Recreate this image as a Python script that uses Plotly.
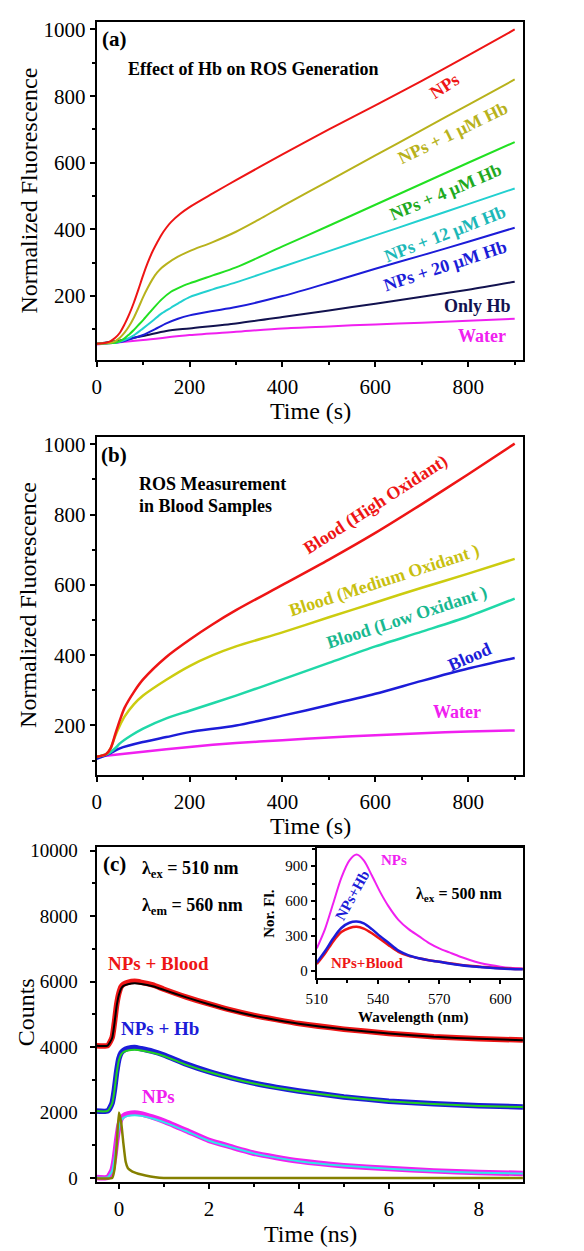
import plotly.graph_objects as go

W, H = 584, 1251
FONT = "Liberation Serif, Times New Roman, serif"

# ---------------- Panel (a): Effect of Hb on ROS generation ----------------
a_t_nps = [0, 20, 30, 40, 50, 60, 70, 80, 90, 100, 110, 120, 130, 140, 150, 160, 180, 200, 250, 300, 400, 500, 600, 700, 800, 900]
a_nps = [57, 60, 65, 75, 90, 115, 145, 180, 220, 262, 300, 333, 360, 385, 405, 422, 447, 467, 508, 548, 625, 700, 772, 846, 922, 1000]
a_t_1 = [0, 30, 40, 50, 60, 70, 80, 90, 100, 110, 120, 130, 140, 150, 175, 200, 250, 300, 350, 400, 500, 600, 700, 800, 900]
a_1uM = [57, 60, 65, 75, 90, 110, 135, 165, 197, 225, 250, 270, 285, 296, 318, 335, 362, 393, 430, 470, 546, 622, 698, 774, 850]
a_t_4 = [0, 40, 50, 60, 70, 80, 90, 100, 120, 140, 160, 180, 200, 250, 300, 400, 500, 600, 700, 800, 900]
a_4uM = [57, 60, 65, 73, 85, 98, 113, 128, 160, 190, 213, 227, 238, 262, 286, 349, 411, 474, 537, 600, 662]
a_t_12 = [0, 40, 60, 80, 100, 120, 140, 160, 180, 200, 250, 300, 400, 500, 600, 700, 800, 900]
a_12uM = [57, 60, 68, 82, 103, 125, 148, 165, 182, 197, 220, 241, 288, 335, 382, 429, 476, 523]
a_t_20 = [0, 50, 75, 100, 125, 150, 175, 200, 250, 300, 400, 500, 600, 700, 800, 900]
a_20uM = [57, 62, 72, 83, 100, 118, 132, 142, 155, 167, 200, 240, 282, 322, 363, 405]
a_t_hb = [0, 50, 100, 150, 200, 300, 400, 500, 600, 700, 800, 900]
a_onlyhb = [57, 67, 80, 95, 103, 118, 137, 157, 177, 198, 219, 243]
a_t_w = [0, 100, 200, 300, 400, 500, 600, 700, 800, 900]
a_water = [55, 68, 83, 93, 103, 109, 115, 120, 126, 132]

# ---------------- Panel (b): ROS in blood samples ----------------
b_t_high = [0, 20, 30, 40, 50, 60, 80, 100, 150, 200, 250, 300, 400, 500, 600, 700, 800, 900]
b_high = [111, 118, 135, 175, 215, 250, 295, 331, 395, 444, 488, 528, 600, 672, 748, 830, 915, 1002]
b_t_med = [0, 20, 30, 40, 50, 60, 80, 100, 150, 200, 250, 300, 400, 500, 600, 700, 800, 900]
b_med = [111, 118, 135, 170, 200, 225, 260, 285, 330, 369, 400, 425, 465, 508, 550, 592, 632, 674]
b_t_low = [0, 25, 40, 50, 75, 100, 150, 200, 300, 400, 500, 600, 700, 800, 900]
b_low = [111, 120, 135, 149, 172, 191, 220, 242, 285, 331, 378, 425, 467, 510, 561]
b_t_blood = [0, 25, 50, 100, 150, 200, 300, 400, 500, 600, 700, 800, 900]
b_blood = [105, 118, 135, 153, 167, 181, 200, 228, 258, 290, 327, 362, 392]
b_t_w = [0, 100, 200, 300, 400, 500, 600, 700, 800, 900]
b_water = [111, 125, 139, 150, 158, 166, 172, 178, 183, 186]

# ---------------- Panel (c): fluorescence decays ----------------
c_t = [-0.55, -0.25, -0.15, -0.1, -0.05, 0, 0.05, 0.1, 0.2, 0.35, 0.5, 0.75, 1.0, 1.5, 2, 2.5, 3, 3.5, 4, 5, 6, 7, 8, 9.1]
c_blood = [4050, 4050, 4300, 4750, 5300, 5650, 5850, 5920, 5980, 6010, 5980, 5900, 5770, 5530, 5320, 5130, 4970, 4840, 4720, 4550, 4420, 4320, 4260, 4210]
c_blood_fit = [4050, 4050, 4280, 4720, 5260, 5600, 5790, 5870, 5920, 5950, 5930, 5860, 5750, 5520, 5310, 5120, 4960, 4830, 4715, 4545, 4415, 4315, 4255, 4205]
c_hb = [2050, 2050, 2300, 2700, 3250, 3650, 3830, 3900, 3960, 3990, 3950, 3870, 3760, 3480, 3250, 3060, 2900, 2770, 2660, 2480, 2350, 2270, 2210, 2170]
c_hb_fit = [2050, 2050, 2280, 2670, 3210, 3600, 3780, 3850, 3900, 3920, 3900, 3830, 3730, 3460, 3240, 3050, 2890, 2760, 2655, 2475, 2345, 2265, 2205, 2165]
c_nps = [20, 20, 250, 600, 1150, 1600, 1820, 1900, 1960, 1990, 1960, 1860, 1740, 1450, 1150, 950, 760, 630, 520, 380, 290, 220, 170, 140]
c_nps_fit = [20, 20, 230, 570, 1100, 1540, 1760, 1840, 1900, 1920, 1900, 1820, 1710, 1430, 1140, 940, 755, 625, 515, 375, 285, 215, 165, 135]
c_t_irf = [-0.55, -0.15, -0.1, -0.05, 0, 0.05, 0.1, 0.15, 0.2, 0.3, 0.5, 0.7, 0.9, 1.2, 9.1]
c_irf = [0, 0, 250, 1000, 2000, 1700, 1050, 500, 300, 200, 110, 50, 10, 0, 0]

# ---------------- Inset: emission spectra ----------------
i_wl = [510, 514, 518, 522, 526, 529.5, 533, 537, 541, 545, 550, 555, 560, 565, 570, 575, 580, 585, 590, 595, 600, 605, 611]
i_nps = [195, 360, 580, 800, 950, 1000, 950, 820, 680, 560, 440, 360, 300, 240, 195, 160, 125, 95, 70, 52, 38, 28, 22]
i_hb = [74, 170, 280, 370, 415, 425, 410, 360, 300, 245, 175, 135, 110, 92, 80, 65, 52, 42, 35, 28, 22, 18, 15]
i_blood = [60, 150, 255, 335, 370, 380, 365, 325, 275, 225, 165, 130, 110, 93, 80, 67, 55, 45, 38, 30, 25, 20, 17]

# ---------------- colours ----------------
RED = "#ee1515"
OLIVE = "#b8b21c"
GREEN = "#22e022"
CYAN = "#22d0d0"
BLUE = "#1c1cd8"
NAVY = "#12124f"
MAGENTA = "#f020f0"
YELLOW = "#cccc10"
AQUA = "#20d8a8"
DKOLIVE = "#858000"

fig = go.Figure()


def add(x, y, color, width, xa, ya, shape="spline", smooth=0.8):
    fig.add_trace(go.Scatter(x=x, y=y, mode="lines", xaxis=xa, yaxis=ya,
                             line=dict(color=color, width=width, shape=shape,
                                       smoothing=smooth if shape == "spline" else None),
                             showlegend=False, hoverinfo="skip"))


# panel a
add(a_t_w, a_water, MAGENTA, 2, "x", "y")
add(a_t_hb, a_onlyhb, NAVY, 2, "x", "y")
add(a_t_20, a_20uM, BLUE, 2, "x", "y")
add(a_t_12, a_12uM, CYAN, 2, "x", "y")
add(a_t_4, a_4uM, GREEN, 2, "x", "y")
add(a_t_1, a_1uM, OLIVE, 2, "x", "y")
add(a_t_nps, a_nps, RED, 2, "x", "y")

# panel b
add(b_t_w, b_water, MAGENTA, 2.5, "x2", "y2")
add(b_t_blood, b_blood, BLUE, 2.5, "x2", "y2")
add(b_t_low, b_low, AQUA, 2.5, "x2", "y2")
add(b_t_med, b_med, YELLOW, 2.5, "x2", "y2")
add(b_t_high, b_high, RED, 2.5, "x2", "y2")

# panel c
add(c_t, c_nps, MAGENTA, 5.5, "x3", "y3", smooth=0.5)
add(c_t, c_nps_fit, "#30e8e8", 2, "x3", "y3", smooth=0.5)
add(c_t_irf, c_irf, DKOLIVE, 2.5, "x3", "y3", smooth=0.4)
add(c_t, c_hb, BLUE, 5.5, "x3", "y3", smooth=0.5)
add(c_t, c_hb_fit, "#22d022", 2, "x3", "y3", smooth=0.5)
add(c_t, c_blood, RED, 5.5, "x3", "y3", smooth=0.5)
add(c_t, c_blood_fit, "#000000", 2, "x3", "y3", smooth=0.5)

# inset
add(i_wl, i_nps, MAGENTA, 2, "x4", "y4")
add(i_wl, i_blood, RED, 2.5, "x4", "y4")
add(i_wl, i_hb, BLUE, 2.5, "x4", "y4")


def px(x):
    return x / W


def py(y):
    return 1 - y / H


def axis(dom, rng, dtick, minor, size=21, tick0=0, standoff=0, fmt=None):
    d = dict(domain=dom, range=rng, dtick=dtick, tick0=tick0,
             showline=True, linewidth=2, linecolor="black", mirror=True,
             ticks="outside", ticklen=5, tickwidth=1.5, tickcolor="black",
             showgrid=False, zeroline=False, ticklabelstandoff=standoff,
             tickfont=dict(family=FONT, size=size, color="black"),
             minor=dict(dtick=minor, tick0=tick0, ticks="outside", ticklen=3,
                        tickwidth=1.5, tickcolor="black", showgrid=False))
    if fmt:
        d["tickformat"] = fmt
    return d


XL, XR = 87.3, 521.7
layout = dict(
    width=W, height=H, margin=dict(l=0, r=0, t=0, b=0),
    paper_bgcolor="white", plot_bgcolor="white", showlegend=False,
    xaxis=axis([px(XL), px(XR)], [0, 917.6], 200, 100, standoff=2),
    yaxis=axis([py(356.7), py(15)], [9, 1023], 200, 100),
    xaxis2=axis([px(XL), px(XR)], [0, 917.6], 200, 100, standoff=2),
    yaxis2=axis([py(776.7), py(435)], [59, 1020.5], 200, 100),
    xaxis3=axis([px(XL), px(XR)], [-0.495, 8.98], 2, 1, standoff=2),
    yaxis3=axis([py(1188.3), py(850)], [-120, 10100], 2000, 1000, size=19, standoff=8, fmt="d"),
    xaxis4=axis([px(311.7), px(XR)], [510, 611], 30, 15, size=15, tick0=510, standoff=2),
    yaxis4=axis([py(981.7), py(850.7)], [-57, 1055], 300, 150, size=15, standoff=0),
)
for i in ("", "2", "3", "4"):
    layout["xaxis" + i]["anchor"] = "y" + i
    layout["yaxis" + i]["anchor"] = "x" + i
for k in ("xaxis4", "yaxis4"):
    layout[k]["ticklen"] = 4
    layout[k]["minor"]["ticklen"] = 3
fig.update_layout(**layout)

ann = []


def text(s, x, y, color="black", size=18, angle=0, bold=True, xanchor="center"):
    ann.append(dict(text=s, x=px(x), y=py(y), xref="paper", yref="paper",
                    xanchor=xanchor, yanchor="middle", showarrow=False, textangle=angle,
                    font=dict(family=FONT, size=size, color=color,
                              weight="bold" if bold else "normal")))


# axis titles
text("Normalized Fluorescence", 18, 186, size=24, angle=-90, bold=False)
text("Time (s)", 305, 409, size=24, bold=False)
text("Normalized Fluorescence", 18, 605, size=24, angle=-90, bold=False)
text("Time (s)", 305, 828, size=24, bold=False)
text("Counts", 15, 1017, size=24, angle=-90, bold=False)
text("Time (ns)", 305, 1241, size=24, bold=False)
text("Nor. Fl.", 263, 917, size=15, angle=-90)
text("Wavelength (nm)", 410, 1022, size=15)

# panel a labels
text("(a)", 105, 32, size=21)
text("Effect of Hb on ROS Generation", 117, 63, size=18, xanchor="left")
text("NPs", 442, 80, RED, 18, -33)
text("NPs + 1 μM Hb", 450, 127, OLIVE, 18, -26)
text("NPs + 4 μM Hb", 443, 187, "#1faa1f", 18, -23)
text("NPs + 12 μM Hb", 442, 230, "#1cb8b8", 18, -21)
text("NPs + 20 μM Hb", 442, 262, BLUE, 18, -18)
text("Only Hb", 475, 302, NAVY, 18)
text("Water", 480, 333, MAGENTA, 18)

# panel b labels
text("(b)", 105, 453, size=21)
text("ROS Measurement", 128, 482, size=18, xanchor="left")
text("in Blood Samples", 128, 505, size=18, xanchor="left")
text("Blood (High Oxidant)", 372, 503, RED, 18, -33)
text("Blood (Medium Oxidant )", 381, 580, "#c8c010", 18, -18)
text("Blood (Low Oxidant )", 404, 617, "#18b890", 18, -18)
text("Blood", 467, 657, BLUE, 18, -24)
text("Water", 455, 713, MAGENTA, 18)

# panel c labels
text("(c)", 105, 867, size=21)
text("λ<sub>ex</sub> = 510 nm", 131, 872, size=18, xanchor="left")
text("λ<sub>em</sub> = 560 nm", 131, 910, size=18, xanchor="left")
text("NPs + Blood", 150, 967, RED, 19)
text("NPs + Hb", 152, 1033, BLUE, 19)
text("NPs", 150, 1102, MAGENTA, 19)
text("NPs", 390, 863, MAGENTA, 15)
text("NPs+Hb", 348, 898, BLUE, 15, -61)
text("NPs+Blood", 363, 967, RED, 15)
text("λ<sub>ex</sub> = 500 nm", 457, 898, size=16)

fig.update_layout(annotations=ann)
fig.write_html("out.html")
